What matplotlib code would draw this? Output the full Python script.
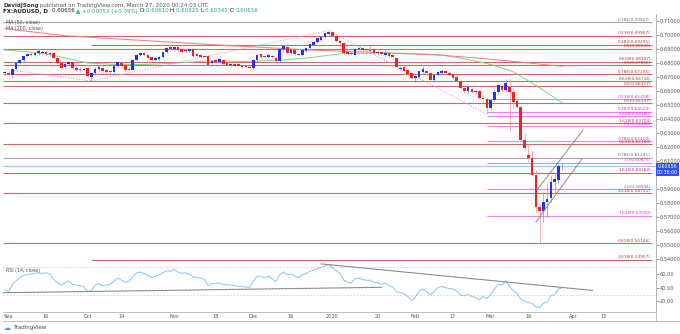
import matplotlib
matplotlib.use("Agg")
import matplotlib.pyplot as plt  # noqa: E402
import numpy as np  # noqa: E402
import pandas as pd  # noqa: E402

W, H = 680, 334

# ---- values -------------------------------------------------------------
# daily FX bars, Aug 30 2019 .. Mar 27 2020 (Dec 25 / Jan 1 have no bar)
opens = [
    .6725,
    .6732, .6716, .6760, .6800, .6822,
    .6848, .6866, .6860, .6868, .6872,
    .6876, .6862, .6869, .6835, .6798,
    .6768, .6790, .6806, .6765, .6758,
    .6750, .6766, .6703, .6726, .6755,
    .6766, .6750, .6742, .6736, .6778,
    .6800, .6785, .6760, .6752, .6822,
    .6854, .6874, .6856, .6845, .6820,
    .6828, .6845, .6881, .6915, .6898,
    .6915, .6903, .6896, .6886, .6903,
    .6862, .6856, .6852, .6850, .6798,
    .6820, .6805, .6818, .6800, .6786,
    .6796, .6790, .6772, .6782, .6772,
    .6764, .6820, .6862, .6852, .6842,
    .6852, .6838, .6812, .6898, .6915,
    .6874, .6890, .6862, .6856, .6888,
    .6905, .6930, .6948, .6962,
    .6985, .7005, .7020, .6993,
    .6958, .6945, .6875, .6872, .6858,
    .6900, .6905, .6898, .6895, .6898,
    .6870, .6876, .6858, .6868, .6856,
    .6838, .6758, .6768, .6752, .6728,
    .6692, .6700, .6735, .6745, .6728,
    .6682, .6712, .6728, .6745, .6730,
    .6718, .6698, .6668, .6620, .6598,
    .6615, .6595, .6600, .6550, .6540,
    .6480, .6536, .6592, .6635, .6608,
    .6631, .6590, .6525, .6488, .6250,
    .6145, .6119, .6000, .5774, .5740,
    .5810, .5833, .5952, .5965, .6061,
]
highs = [
    .6745,
    .6740, .6765, .6810, .6830, .6853,
    .6870, .6875, .6880, .6900, .6890,
    .6885, .6878, .6880, .6840, .6805,
    .6800, .6812, .6810, .6775, .6772,
    .6768, .6770, .6730, .6768, .6780,
    .6775, .6758, .6752, .6790, .6810,
    .6808, .6790, .6772, .6830, .6862,
    .6880, .6880, .6862, .6850, .6845,
    .6852, .6885, .6915, .6929, .6922,
    .6929, .6910, .6905, .6908, .6910,
    .6870, .6862, .6860, .6855, .6822,
    .6830, .6835, .6825, .6808, .6800,
    .6802, .6798, .6785, .6788, .6780,
    .6828, .6865, .6870, .6860, .6865,
    .6860, .6845, .6905, .6925, .6940,
    .6900, .6895, .6870, .6898, .6910,
    .6940, .6955, .6980, .6992,
    .7015, .7032, .7025, .6998,
    .6965, .6950, .6890, .6882, .6908,
    .6915, .6912, .6905, .6929, .6905,
    .6885, .6882, .6893, .6875, .6862,
    .6845, .6775, .6780, .6758, .6735,
    .6715, .6745, .6776, .6752, .6735,
    .6718, .6745, .6760, .6752, .6738,
    .6728, .6705, .6675, .6630, .6635,
    .6620, .6610, .6605, .6568, .6548,
    .6545, .6620, .6648, .6645, .6685,
    .6691, .6615, .6560, .6500, .6300,
    .6225, .6180, .6036, .5800, .5881,
    .5943, .5990, .6005, .6083, .6083,
]
lows = [
    .6715,
    .6705, .6690, .6750, .6790, .6810,
    .6840, .6850, .6852, .6855, .6862,
    .6850, .6850, .6828, .6790, .6760,
    .6760, .6780, .6758, .6745, .6745,
    .6742, .6700, .6672, .6715, .6742,
    .6738, .6728, .6725, .6730, .6770,
    .6775, .6742, .6742, .6748, .6815,
    .6848, .6850, .6828, .6812, .6812,
    .6815, .6838, .6870, .6890, .6885,
    .6885, .6872, .6880, .6878, .6845,
    .6843, .6838, .6840, .6780, .6790,
    .6800, .6798, .6788, .6780, .6778,
    .6772, .6768, .6765, .6762, .6755,
    .6758, .6812, .6838, .6835, .6835,
    .6835, .6805, .6808, .6880, .6865,
    .6865, .6850, .6848, .6850, .6880,
    .6898, .6925, .6942, .6955,
    .6978, .6995, .6985, .6952,
    .6929, .6865, .6850, .6855, .6852,
    .6890, .6885, .6882, .6880, .6862,
    .6860, .6850, .6850, .6845, .6835,
    .6768, .6748, .6735, .6712, .6685,
    .6663, .6695, .6728, .6718, .6675,
    .6662, .6705, .6720, .6722, .6705,
    .6688, .6660, .6615, .6588, .6585,
    .6585, .6575, .6545, .6520, .6434,
    .6465, .6525, .6580, .6600, .6600,
    .6314, .6480, .6480, .6240, .6180,
    .6090, .5990, .5738, .5507, .5667,
    .5700, .5810, .5870, .5945, .6035,
]
closes = [
    .6734,
    .6720, .6760, .6800, .6822, .6848,
    .6862, .6860, .6868, .6885, .6881,
    .6865, .6870, .6835, .6798, .6766,
    .6790, .6806, .6762, .6752, .6750,
    .6755, .6707, .6726, .6760, .6772,
    .6745, .6738, .6736, .6780, .6805,
    .6782, .6752, .6750, .6822, .6855,
    .6874, .6855, .6838, .6818, .6838,
    .6845, .6880, .6910, .6898, .6915,
    .6890, .6882, .6886, .6902, .6850,
    .6850, .6845, .6846, .6788, .6815,
    .6805, .6828, .6795, .6788, .6795,
    .6780, .6775, .6778, .6770, .6764,
    .6820, .6860, .6845, .6842, .6858,
    .6842, .6812, .6898, .6918, .6874,
    .6890, .6862, .6856, .6893, .6905,
    .6936, .6952, .6975, .6988,
    .7012, .7022, .6993, .6960,
    .6942, .6870, .6862, .6862, .6902,
    .6910, .6895, .6890, .6888, .6870,
    .6878, .6862, .6872, .6852, .6842,
    .6772, .6765, .6745, .6718, .6692,
    .6710, .6742, .6755, .6728, .6680,
    .6712, .6735, .6745, .6728, .6714,
    .6695, .6668, .6620, .6598, .6628,
    .6595, .6600, .6550, .6540, .6480,
    .6536, .6595, .6640, .6610, .6655,
    .6595, .6520, .6488, .6252, .6195,
    .6121, .6000, .5774, .5740, .5810,
    .5829, .5952, .5969, .6061, .6066,
]
rsi = [
    37,
    34, 44, 50, 55, 58,
    60, 60, 61, 62, 61,
    62, 60, 52, 47, 44,
    47, 50, 45, 44, 43,
    42, 34, 36, 44, 46,
    43, 44, 45, 50, 54,
    51, 48, 49, 56, 62,
    63, 61, 58, 55, 57,
    59, 62, 65, 64, 67,
    63, 61, 62, 60, 56,
    55, 54, 52, 43, 46,
    46, 47, 45, 44, 44,
    43, 42, 42, 41, 40,
    50, 57, 56, 55, 57,
    53, 49, 59, 63, 59,
    60, 57, 55, 59, 61,
    64, 66, 68, 70,
    72, 74, 69, 65,
    61, 51, 48, 47, 53,
    54, 52, 51, 51, 48,
    47, 45, 47, 43, 41,
    34, 33, 31, 27, 21,
    26, 35, 38, 34, 29,
    35, 40, 42, 40, 39,
    38, 35, 29, 28, 30,
    27, 26, 22, 27, 24,
    30, 38, 45, 44, 50,
    42, 35, 32, 23, 20,
    18, 17, 12, 11, 17,
    19, 28, 30, 38, 40,
]

# moving averages, read at a few points (bar index, price)
ma50_bar = [-1, 5, 11, 21, 30, 37, 45, 53, 64, 72, 80, 88, 95, 102, 110,
            115, 122, 128, 134, 140, 147]
ma50_val = [.6893, .6880, .6860, .6800, .6788, .6790, .6800, .6815, .6810,
            .6820, .6838, .6866, .6870, .6870, .6865, .6857, .6825, .6790,
            .6738, .6640, .6516]
ma200_bar = [-1, 15, 35, 60, 80, 100, 115, 130, 147]
ma200_val = [.7045, .6995, .6962, .6922, .6893, .6872, .6856, .6822, .6776]

# fibonacci levels: price, label, colour group, first bar
fib_price = [.70927, .69957, .69295, .69030, .68107, .67860, .67205, .66716,
             .66327, .65408, .65137, .64520, .64180, .63704, .63480, .62420,
             .62180, .61241, .60875, .60162, .58994, .58711, .57094, .55146,
             .53957]
fib_label = ["0.786(0.70927)", "0.236(0.69957)", "0.382(0.69295)",
             "0.5(0.69030)", "0.618(0.68107)", "0.5(0.67860)",
             "0.786(0.67205)", "0.618(0.66716)", "0.5(0.66327)",
             "0.236(0.65408)", "0.5(0.65137)", "0.382(0.64520)",
             "0.618(0.64180)", "1.618(0.63704)", "0.5(0.63480)",
             "0.786(0.62420)", "0.618(0.62180)", "0.786(0.61241)",
             "1.0(0.60875)", "1.618(0.60162)", "2.0(0.58994)",
             "2.618(0.58711)", "1.618(0.57094)", "0.618(0.55146)",
             "2.618(0.53957)"]
fib_group = ["gray", "red", "red", "red", "red", "red", "red", "red",
             "red", "pink", "red", "pink", "pink", "red", "pink", "pink",
             "red", "gray", "pink", "red", "pink", "red", "pink", "red",
             "red"]
fib_start = [-2, -2, 22, -2, -2, -2, -2, -2, -2, 127, -2, 127, 127, -2, 127,
             127, -2, -2, 127, -2, 127, -2, 127, -2, 22]

# hand-drawn trend lines (bar, price pairs)
chan_up = ([140.3, 152.5], [.5893, .6321])
chan_lo = ([140.0, 152.2], [.5664, .6114])
dot_lines = [([-1.4, 22], [.6757, .6672]),
             ([22, 85], [.6672, .7032]),
             ([85, 127], [.7032, .6434])]
rsi_lines = [([-1.4, 99], [32.6, 40.6]), ([83, 155], [75, 36])]

tick_dates = ["2019-09-02", "2019-09-16", "2019-10-01", "2019-10-14",
              "2019-11-01", "2019-11-18", "2019-12-02", "2019-12-16",
              "2020-01-02", "2020-01-20", "2020-02-03", "2020-02-17",
              "2020-03-02", "2020-03-16", "2020-04-01", "2020-04-13"]
tick_text = ["Sep", "16", "Oct", "14", "Nov", "18", "Dec", "16", "2020",
             "20", "Feb", "17", "Mar", "16", "Apr", "13"]

last_price = 0.60656

# ---- bar positions --------------------------------------------------------
days = pd.bdate_range("2019-08-30", "2020-04-30")
days = days[~days.isin(pd.to_datetime(["2019-12-25", "2020-01-01"]))]
pos = {d.strftime("%Y-%m-%d"): i - 1 for i, d in enumerate(days)}
xs = np.arange(len(closes)) - 1

o, h, l, c = map(np.array, (opens, highs, lows, closes))

# ---- layout (pixel geometry of the screenshot) --------------------------
LEFT, RIGHT, TOP, MID, BOT = 3, 655.7, 14, 262.5, 311.7
X0, XS = 8.5, 3.767          # px of bar 0, px per bar
P0, PS = 0.725, 1400.0       # price = P0 - y/PS


def bar_at(px):
    return (px - X0) / XS


fig = plt.figure(figsize=(W / 100, H / 100), dpi=100)
ax = fig.add_axes([LEFT / W, 1 - MID / H, (RIGHT - LEFT) / W, (MID - TOP) / H])
rx = fig.add_axes([LEFT / W, 1 - BOT / H, (RIGHT - LEFT) / W, (BOT - MID) / H],
                  sharex=ax)
ax.set_xlim(bar_at(LEFT), bar_at(RIGHT))
ax.set_ylim(P0 - MID / PS, P0 - TOP / PS)
rx.set_ylim(30 - (BOT - 294.5) / 0.68, 30 + (294.5 - MID) / 0.68)

line_col = "#b2b5be"
for a in (ax, rx):
    for s in ("left", "top"):
        a.spines[s].set_visible(False)
    for s in ("right", "bottom"):
        a.spines[s].set_color(line_col)
        a.spines[s].set_linewidth(0.6)
    a.yaxis.tick_right()
    a.tick_params(axis="y", labelsize=3.6, length=2, width=0.4, pad=1,
                  colors="#555555")
ax.tick_params(axis="x", length=0, labelbottom=False)
rx.tick_params(axis="x", length=0, labelsize=3.6, pad=2, colors="#555555")

# 0.60000 sits under the live price box, so its label stays hidden
yt = np.round(np.arange(0.54, 0.7101, 0.01), 2)
ax.set_yticks(yt)
ax.set_yticklabels(["" if v == 0.60 else f"{v:.5f}" for v in yt])
rx.set_yticks([20, 40, 60])
rx.set_yticklabels(["20.00", "40.00", "60.00"])
rx.set_xticks([pos[d] for d in tick_dates])
rx.set_xticklabels(tick_text)

# fib levels
grp_line = {"red": "#c96b6b", "pink": "#ee82ee", "gray": "#a8a8a8"}
grp_text = {"red": "#b03a3a", "pink": "#d631d6", "gray": "#6f6f6f"}
xr = bar_at(652)
for p, lab, g, s in zip(fib_price, fib_label, fib_group, fib_start):
    ax.hlines(p, max(s, bar_at(LEFT)), xr, color=grp_line[g], lw=0.8,
              zorder=1)
    ax.text(bar_at(651), p + 0.0003, lab, fontsize=3.1, color=grp_text[g],
            ha="right", va="bottom", zorder=2)

# moving averages
ax.plot(ma50_bar, ma50_val, color="#7fd47f", lw=0.7, zorder=2)
ax.plot(ma200_bar, ma200_val, color="#ee7b7b", lw=0.7, zorder=2)

# dotted trend lines
for bx, by in dot_lines:
    ax.plot(bx, by, color="#e58ed8", lw=0.7, ls=(0, (1.2, 1.6)), zorder=2)

# current price line
ax.axhline(last_price, color="#b9c2f5", lw=1.0, zorder=1)

# candles
up = c >= o
col = np.where(up, "#2233ee", "#ee2222")
wick = np.where(up, "#7f8cf5", "#f59090")
ax.vlines(xs, l, h, colors=wick, lw=0.5, zorder=3)
ax.bar(xs, np.maximum(np.abs(c - o), 0.0001), bottom=np.minimum(o, c),
       width=0.7, color=col, lw=0, zorder=4)

# rising channel
for bx, by in (chan_up, chan_lo):
    ax.plot(bx, by, color="#8c8c8c", lw=0.7, zorder=5)

# RSI pane
rx.axhline(70, color="#cfcfcf", lw=0.6, ls=(0, (2, 2)))
rx.axhline(30, color="#cfcfcf", lw=0.6, ls=(0, (2, 2)))
rx.plot(xs, rsi, color="#86c5f7", lw=0.7)
for bx, by in rsi_lines:
    rx.plot(bx, by, color="#8c8c8c", lw=0.8)

# pane labels
ax.text(0.004, 0.965, "MA (50, close)", transform=ax.transAxes, fontsize=3.4,
        color="#555555", va="center")
ax.text(0.004, 0.94, "MA (200, close)", transform=ax.transAxes, fontsize=3.4,
        color="#555555", va="center")
rx.text(0.004, 0.84, "RSI (14, close)", transform=rx.transAxes, fontsize=3.4,
        color="#555555", va="center")

# price + countdown box on the scale
fig.text(667.5 / W, 1 - 169.5 / H, "0.60656\n00:36:00", fontsize=3.4,
         color="white", ha="center", va="center", linespacing=1.35,
         bbox=dict(boxstyle="square,pad=0.25", fc="#2f4ff0", ec="none"))


def chain(x, y, parts):
    prev = None
    for s, colr, wt in parts:
        if prev is None:
            prev = fig.text(x, y, s, fontsize=4, color=colr, weight=wt,
                            va="center")
        else:
            prev = ax.annotate(s, xy=(1, 0.5), xycoords=prev, va="center",
                               fontsize=4, color=colr, weight=wt,
                               annotation_clip=False)


# header
chain(3 / W, 1 - 5 / H, [
    ("DavidJSong", "#333333", "bold"),
    (" published on TradingView.com, March 27, 2020 00:24:03 UTC",
     "#555555", "normal")])
chain(3 / W, 1 - 11 / H, [
    ("FX:AUDUSD, D  ", "#222222", "bold"), ("0.60656 ", "#222222", "normal"),
    ("▲ +0.00053 (+0.09%) ", "#26a69a", "normal"), ("O:", "#222222", "normal"),
    ("0.60610 ", "#26a69a", "normal"), ("H:", "#222222", "normal"),
    ("0.60825 ", "#26a69a", "normal"), ("L:", "#222222", "normal"),
    ("0.60345 ", "#26a69a", "normal"), ("C:", "#222222", "normal"),
    ("0.60656", "#26a69a", "normal")])

# bottom frame + logo
fig.add_artist(plt.Line2D([LEFT / W, 1], [1 - 320.7 / H] * 2, color=line_col,
                          lw=0.6))
fig.add_artist(plt.Line2D([RIGHT / W] * 2, [1 - 320.7 / H, 1 - TOP / H],
                          color=line_col, lw=0.6))
fig.text(13 / W, 1 - 328 / H, "TradingView", fontsize=4, color="#444444",
         va="center")
fig.text(4 / W, 1 - 328 / H, "☁", fontsize=5, color="#2a9df4", va="center")

fig.savefig("out.png", dpi=100)
